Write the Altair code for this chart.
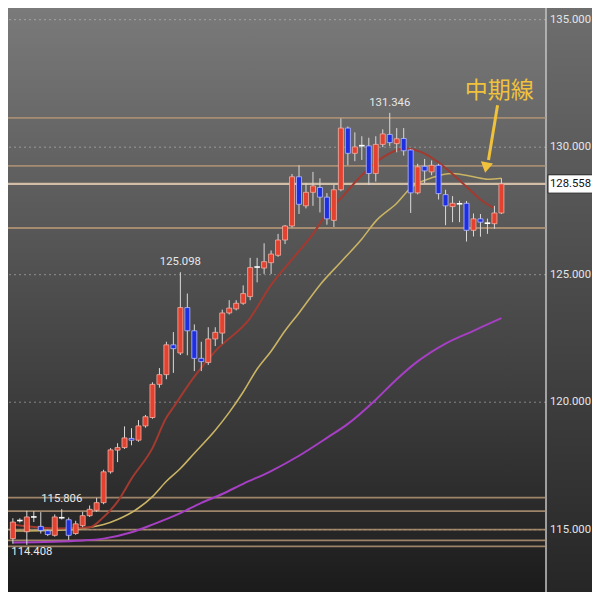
import altair as alt
import pandas as pd

# ---------------- data ----------------
opens = [114.65, 115.33, 114.92, 115.48, 115.13, 114.96, 114.78, 115.44, 115.39, 114.85,
         115.16, 115.55, 115.76, 116.06, 117.27, 118.12, 118.22, 118.58, 118.51, 119.07,
         119.40, 120.70, 121.08, 122.25, 121.93, 123.71, 122.80, 121.72, 121.56, 122.48,
         122.71, 123.50, 123.66, 123.88, 124.14, 125.27, 125.26, 125.47, 125.76, 126.36,
         126.91, 128.84, 127.70, 128.23, 128.42, 128.04, 127.13, 128.33, 130.75, 129.76,
         130.03, 130.05, 128.97, 130.11, 130.50, 130.14, 130.34, 129.89, 128.21, 129.25,
         129.03, 129.29, 128.14, 127.67, 127.75, 127.80, 126.74, 127.19, 126.99, 127.00,
         127.42]
highs = [115.45, 115.45, 115.74, 115.73, 115.69, 115.00, 115.60, 115.806, 115.48, 115.35,
         115.70, 115.95, 116.25, 117.35, 118.20, 118.39, 119.05, 118.98, 119.30, 119.50,
         120.78, 121.34, 122.37, 122.75, 125.098, 124.26, 123.05, 122.37, 122.94, 122.94,
         123.63, 124.00, 124.00, 124.58, 125.66, 125.66, 126.23, 125.95, 126.60, 126.95,
         128.95, 129.29, 128.59, 129.03, 128.78, 128.20, 128.52, 131.13, 130.81, 130.58,
         130.43, 130.37, 130.43, 130.70, 131.346, 130.75, 130.75, 129.92, 129.35, 129.54,
         129.48, 129.35, 128.33, 128.08, 127.90, 127.89, 127.40, 127.38, 127.20, 127.70,
         128.78]
lows = [114.45, 115.28, 114.408, 115.30, 114.85, 114.75, 114.73, 115.40, 114.60, 114.80,
        115.10, 115.50, 115.70, 116.00, 117.20, 117.65, 118.17, 118.31, 118.45, 119.00,
        119.35, 120.57, 120.90, 121.15, 121.85, 121.84, 121.22, 121.22, 121.46, 122.20,
        122.29, 123.44, 123.60, 123.82, 124.00, 124.70, 125.03, 125.03, 125.70, 126.20,
        126.85, 127.38, 127.60, 127.70, 127.44, 126.96, 126.87, 128.27, 129.29, 129.45,
        129.50, 128.52, 128.65, 130.00, 130.05, 129.80, 129.67, 127.42, 128.15, 128.59,
        128.90, 127.95, 126.94, 127.06, 127.06, 126.30, 126.50, 126.49, 126.60, 126.80,
        127.38]
closes = [115.30, 115.36, 115.50, 115.50, 114.97, 114.81, 115.50, 115.47, 114.78, 115.23,
          115.55, 115.80, 116.06, 117.27, 118.13, 118.22, 118.60, 118.51, 119.07, 119.43,
          120.70, 121.08, 122.25, 122.10, 123.71, 122.80, 121.72, 121.59, 122.48, 122.74,
          123.50, 123.69, 123.88, 124.26, 125.28, 125.30, 125.51, 125.81, 126.36, 126.91,
          128.84, 127.76, 128.23, 128.48, 128.04, 127.19, 128.33, 130.75, 129.76, 130.01,
          130.06, 128.97, 130.11, 130.52, 130.18, 130.33, 129.86, 128.21, 129.23, 129.07,
          129.29, 128.18, 127.70, 127.80, 127.78, 126.74, 127.19, 127.06, 127.02, 127.42,
          128.558]

short_ma_idx = [0, 6, 11, 13, 15, 17, 20, 22, 23, 26, 29, 34, 37, 40, 43, 45, 47, 50,
                53, 56, 59, 61, 63, 65, 67, 69]
short_ma_val = [115.2, 115.05, 115.1, 115.5, 116.1, 117.0, 118.2, 119.4, 119.8, 121.0,
                122.0, 123.3, 124.6, 125.6, 126.6, 127.4, 128.0, 128.9, 129.6, 129.95,
                129.75, 129.4, 128.95, 128.45, 127.95, 127.6]

mid_ma_idx = [0, 5, 10, 13, 15, 18, 20, 22, 24, 26, 29, 31, 33, 35, 37, 39, 41, 44, 47,
              50, 52, 55, 57, 60, 63, 66, 68, 70]
mid_ma_val = [114.95, 114.97, 115.05, 115.2, 115.4, 115.85, 116.3, 116.9, 117.4, 118.0,
              118.9, 119.6, 120.4, 121.3, 122.0, 122.8, 123.5, 124.6, 125.5, 126.4, 127.1,
              127.8, 128.4, 128.8, 128.97, 128.84, 128.74, 128.78]

long_ma_idx = [0, 10, 13, 17, 20, 24, 27, 30, 33, 37, 41, 45, 48, 52, 55, 58, 62, 66, 70]
long_ma_val = [114.5, 114.58, 114.65, 114.9, 115.2, 115.65, 116.05, 116.4, 116.8, 117.3,
               117.9, 118.6, 119.15, 120.1, 120.9, 121.6, 122.3, 122.8, 123.3]

levels = [131.15, 129.27, 126.83, 116.26, 115.73, 115.0, 114.58, 114.35]
last_price = 128.558
grid_values = [115, 120, 125, 130, 135]
grid_labels = ["115.000", "120.000", "125.000", "130.000", "135.000"]

peak_labels = ["131.346", "125.098", "115.806", "114.408"]
peak_idx = [54, 24, 7, 2]
peak_price = [131.346, 125.098, 115.806, 114.408]
peak_side = ["top", "top", "top", "bottom"]

note_text = "中期線"
note_idx = [69.7]
note_price = [132.2]
arrow_idx = [69.45, 68.15]
arrow_price = [131.64, 129.5]
arrow_head_idx = [67.8]
arrow_head_price = [129.2]

# ---------------- layout ----------------
TOTAL = 584
W = 538
H = 584
xs = alt.Scale(domain=[-0.697, 76.39], nice=False, zero=False, padding=0)
ys = alt.Scale(domain=[112.557, 135.458], nice=False, zero=False, padding=0)
FONT = "Roboto"
FS = 11.3

n = len(opens)
kinds = []
for o, c in zip(opens, closes):
    if c - o > 0.04:
        kinds.append("up")
    elif o - c > 0.04:
        kinds.append("down")
    else:
        kinds.append("doji")
cdf = pd.DataFrame({"i": list(range(n)), "o": opens, "h": highs, "l": lows,
                    "c": closes, "kind": kinds})

one = pd.DataFrame({"a": [0]})

grad_plot = alt.LinearGradient(
    gradient="linear", x1=0, x2=0, y1=0, y2=1,
    stops=[alt.GradientStop(color="#7a7a7a", offset=0),
           alt.GradientStop(color="#5a5a5a", offset=0.35),
           alt.GradientStop(color="#3a3a3a", offset=0.7),
           alt.GradientStop(color="#1b1b1b", offset=1)])
grad_axis = alt.LinearGradient(
    gradient="linear", x1=0, x2=0, y1=0, y2=1,
    stops=[alt.GradientStop(color="#6e6e6e", offset=0),
           alt.GradientStop(color="#505050", offset=0.4),
           alt.GradientStop(color="#262626", offset=1)])

bg = alt.Chart(one).mark_rect(fill=grad_plot, clip=False).encode(
    x=alt.value(0), x2=alt.value(W), y=alt.value(0), y2=alt.value(H))
bg_axis = alt.Chart(one).mark_rect(fill=grad_axis, clip=False).encode(
    x=alt.value(W), x2=alt.value(TOTAL), y=alt.value(0), y2=alt.value(H))
separator = alt.Chart(one).mark_rule(color="#c4c4c4", strokeWidth=1.5, clip=False).encode(
    x=alt.value(W), y=alt.value(0), y2=alt.value(H))

gdf = pd.DataFrame({"v": grid_values, "t": grid_labels})
grid = alt.Chart(gdf).mark_rule(
    color="#d0d0d0", strokeDash=[2, 3], strokeWidth=1, opacity=0.5).encode(
    y=alt.Y("v:Q", scale=ys, axis=None))
grid_text = alt.Chart(gdf).mark_text(
    color="#e6e6e6", font=FONT, fontSize=FS, align="left", baseline="middle",
    clip=False).encode(
    x=alt.value(W + 4), y=alt.Y("v:Q", scale=ys, axis=None), text="t:N")

lev = alt.Chart(pd.DataFrame({"v": levels})).mark_rule(
    color="#b39575", strokeWidth=1.8, opacity=0.85).encode(
    y=alt.Y("v:Q", scale=ys, axis=None))
lev_last = alt.Chart(pd.DataFrame({"v": [last_price]})).mark_rule(
    color="#d2bda6", strokeWidth=2.2).encode(
    y=alt.Y("v:Q", scale=ys, axis=None))

def ma_chart(idx, val, color, width):
    return alt.Chart(pd.DataFrame({"i": idx, "v": val})).mark_line(
        color=color, strokeWidth=width, interpolate="monotone").encode(
        x=alt.X("i:Q", scale=xs, axis=None), y=alt.Y("v:Q", scale=ys, axis=None))

long_ma = ma_chart(long_ma_idx, long_ma_val, "#a63fc4", 2)
mid_ma = ma_chart(mid_ma_idx, mid_ma_val, "#c9b364", 1.6)
short_ma = ma_chart(short_ma_idx, short_ma_val, "#a23a30", 2)

base = alt.Chart(cdf)
wick = base.mark_rule(color="#d9d9d9", strokeWidth=1).encode(
    x=alt.X("i:Q", scale=xs, axis=None),
    y=alt.Y("l:Q", scale=ys, axis=None), y2="h:Q")
body_color = alt.Color("kind:N", scale=alt.Scale(domain=["up", "down", "doji"],
                       range=["#e4412f", "#1d2fe0", "#ffffff"]), legend=None)
body_stroke = alt.Stroke("kind:N", scale=alt.Scale(domain=["up", "down", "doji"],
                         range=["#f3b0a4", "#b7bdff", "#ffffff"]), legend=None)
body = base.transform_filter("datum.kind != 'doji'").mark_bar(
    size=5, strokeWidth=0.8).encode(
    x=alt.X("i:Q", scale=xs, axis=None),
    y=alt.Y("o:Q", scale=ys, axis=None), y2="c:Q",
    color=body_color, stroke=body_stroke)
doji = base.transform_filter("datum.kind == 'doji'").transform_calculate(
    xa="datum.i - 0.4", xb="datum.i + 0.4").mark_rule(
    color="#ffffff", strokeWidth=1.6).encode(
    x=alt.X("xa:Q", scale=xs, axis=None), x2="xb:Q",
    y=alt.Y("c:Q", scale=ys, axis=None))

pk = pd.DataFrame({"t": peak_labels, "i": peak_idx, "p": peak_price, "side": peak_side})
pk_top = alt.Chart(pk).transform_filter("datum.side == 'top'").mark_text(
    color="#e8e8e8", font=FONT, fontSize=FS, baseline="bottom", dy=-5).encode(
    x=alt.X("i:Q", scale=xs, axis=None), y=alt.Y("p:Q", scale=ys, axis=None), text="t:N")
pk_bot = alt.Chart(pk).transform_filter("datum.side == 'bottom'").mark_text(
    color="#e8e8e8", font=FONT, fontSize=FS, baseline="top", dy=1, dx=5).encode(
    x=alt.X("i:Q", scale=xs, axis=None), y=alt.Y("p:Q", scale=ys, axis=None), text="t:N")

box = alt.Chart(pd.DataFrame({"p": [last_price]})).transform_calculate(
    lo="datum.p - 0.36", hi="datum.p + 0.36").mark_rect(
    fill="#ffffff", stroke="#222222", strokeWidth=1, clip=False).encode(
    x=alt.value(W + 2), x2=alt.value(TOTAL + 2),
    y=alt.Y("lo:Q", scale=ys, axis=None), y2="hi:Q")
box_text = alt.Chart(pd.DataFrame({"p": [last_price], "t": ["128.558"]})).mark_text(
    color="#111111", font=FONT, fontSize=FS, align="left", baseline="middle",
    clip=False).encode(
    x=alt.value(W + 4), y=alt.Y("p:Q", scale=ys, axis=None), text="t:N")

note = alt.Chart(pd.DataFrame({"i": note_idx, "p": note_price, "t": [note_text]})).mark_text(
    color="#f0c23c", font="Noto Sans CJK JP", fontSize=23, align="center",
    baseline="middle").encode(
    x=alt.X("i:Q", scale=xs, axis=None), y=alt.Y("p:Q", scale=ys, axis=None), text="t:N")
arrow = alt.Chart(pd.DataFrame({"i": arrow_idx, "p": arrow_price})).mark_line(
    color="#f0c23c", strokeWidth=3).encode(
    x=alt.X("i:Q", scale=xs, axis=None), y=alt.Y("p:Q", scale=ys, axis=None))
arrow_head = alt.Chart(pd.DataFrame({"i": arrow_head_idx, "p": arrow_head_price})).mark_point(
    shape="triangle-down", filled=True, color="#f0c23c", opacity=1, size=150, angle=10).encode(
    x=alt.X("i:Q", scale=xs, axis=None), y=alt.Y("p:Q", scale=ys, axis=None))

chart = alt.layer(
    bg, bg_axis, separator, grid, grid_text, lev, lev_last, long_ma, mid_ma, short_ma,
    wick, body, doji, pk_top, pk_bot, box, box_text, note, arrow, arrow_head
).properties(
    width=W, height=H,
    autosize=alt.AutoSizeParams(type="none"),
    padding={"left": 0, "top": 0, "right": TOTAL - W, "bottom": 0},
    background="#1b1b1b"
).configure_view(stroke=None)

chart.save("out.html", embed_options={"renderer": "svg", "actions": False})
